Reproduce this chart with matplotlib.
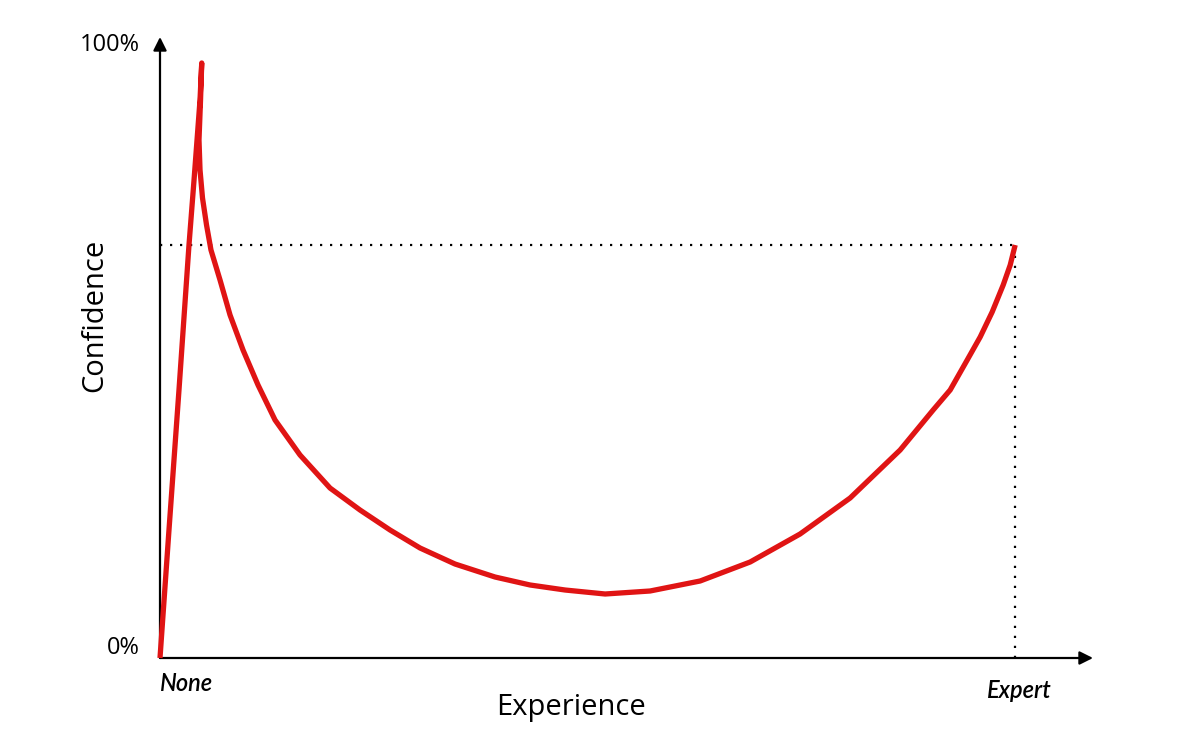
import numpy as np
import matplotlib
matplotlib.use("Agg")
import matplotlib.pyplot as plt

# curve: experience (0 = None, 100 = Expert), confidence in %
experience = [0, 1.05, 2.22, 3.39, 3.98, 4.33, 4.68, 4.88,
              4.74, 4.56, 4.68, 4.97, 5.44, 5.96, 7.02, 8.19, 9.71, 11.46, 13.45,
              16.37, 19.88, 23.39, 26.90, 30.41, 34.50, 39.18, 43.27, 47.37,
              52.05, 57.31, 63.16, 69.01, 74.85, 80.70, 86.55, 90.41, 92.40,
              94.39, 95.91, 97.31, 98.60, 99.42, 100]
confidence = [0, 20.88, 43.72, 67.37, 77.98, 84.50, 91.03, 97.06,
              91.03, 84.50, 79.61, 75.04, 70.64, 66.56, 61.66, 55.95, 50.24, 44.54, 38.83,
              33.12, 27.73, 24.14, 20.88, 17.94, 15.33, 13.21, 11.91, 11.09,
              10.44, 10.93, 12.56, 15.66, 20.23, 26.10, 33.93, 40.46, 43.72,
              48.61, 52.37, 56.44, 60.85, 64.11, 67.37]

expert_x = 100
expert_y = 67.37
ytick_vals = [0, 100]
ytick_labels = ["0%", "100%"]
xmax = 109.1
ymax = 101.3

plt.rcParams['font.family'] = ['Open Sans', 'DejaVu Sans']

fig = plt.figure(figsize=(12, 7.44), dpi=100)
ax = fig.add_axes([160/1200, 86/744, 933/1200, 621/744])
ax.set_xlim(0, xmax)
ax.set_ylim(0, ymax)

for s in ax.spines.values():
  s.set_visible(False)
ax.set_xticks([])
ax.set_yticks([])

# axes with arrow heads
ax.annotate('', xy=(1, 0), xytext=(0, 0), xycoords='axes fraction',
            arrowprops=dict(arrowstyle='-|>', color='black', lw=1.6,
                            mutation_scale=20, shrinkA=0, shrinkB=0))
ax.annotate('', xy=(0, 1), xytext=(0, 0), xycoords='axes fraction',
            arrowprops=dict(arrowstyle='-|>', color='black', lw=1.6,
                            mutation_scale=20, shrinkA=0, shrinkB=0))

# dotted guide lines
ax.plot([0, expert_x], [expert_y, expert_y], color='black', ls=(0, (1, 3.5)), lw=1.6)
ax.plot([expert_x, expert_x], [0, expert_y], color='black', ls=(0, (1, 3.5)), lw=1.6)

ax.plot(experience, confidence, color='#e01414', lw=3.8,
        solid_joinstyle='round', solid_capstyle='butt', clip_on=False, zorder=5)

for v, lab in zip(ytick_vals, ytick_labels):
  ax.text(-2.4, v + (1.6 if v == 0 else 0), lab, ha='right', va='center', fontsize=17)

ax.text(0, -2.3, "None", ha='left', va='top', fontsize=17, style='italic',
        fontweight='semibold', family=['Lato', 'DejaVu Sans'])
ax.text(expert_x + 0.5, -3.4, "Expert", ha='center', va='top', fontsize=17,
        style='italic', fontweight='semibold', family=['Lato', 'DejaVu Sans'])

fig.text(571/1200, 1 - 708/744, "Experience", ha='center', va='center', fontsize=21)
fig.text(95/1200, 1 - 315/744, "Confidence", ha='center', va='center',
         fontsize=21, rotation=90)

plt.savefig('out.png', dpi=100)
